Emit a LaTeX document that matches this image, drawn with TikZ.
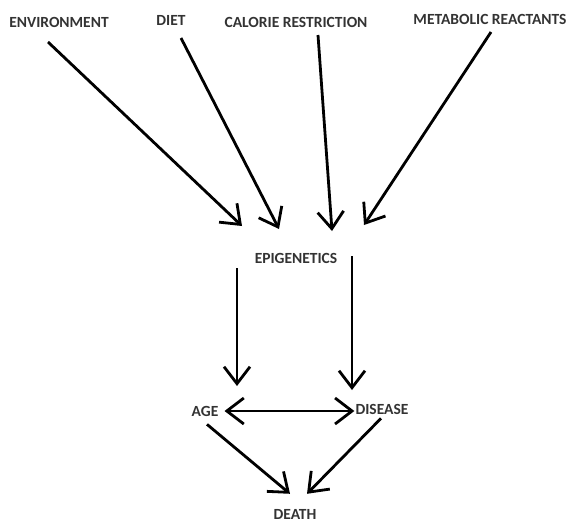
\documentclass[tikz,border=0pt]{standalone}
\usepackage{fontspec}
\setmainfont{Carlito}
\usetikzlibrary{arrows.meta}

\tikzset{
  lbl/.style={font=\bfseries\fontsize{15.5}{18}\selectfont, text=black!80, inner sep=0pt},
  arr/.style={line width=2.8pt, -{Straight Barb[length=17pt,width=26pt,line width=2.8pt]}},
  dblarr/.style={line width=2.8pt, {Straight Barb[length=17pt,width=26pt,line width=2.8pt]}-{Straight Barb[length=17pt,width=26pt,line width=2.8pt]}}
}

\begin{document}
\begin{tikzpicture}[x=1pt,y=-1pt]
      \useasboundingbox (0,0) rectangle (567,523);

      \node[lbl] (env)  at (59,22)  {ENVIRONMENT};
      \node[lbl] (diet) at (171,20) {DIET};
      \node[lbl] (cal)  at (296,22) {CALORIE RESTRICTION};
      \node[lbl] (met)  at (490,19) {METABOLIC REACTANTS};
      \node[lbl] (epi)  at (296,258) {EPIGENETICS};
      \node[lbl] (age)  at (205,411) {AGE};
      \node[lbl] (dis)  at (382,409) {DISEASE};
      \node[lbl] (dth)  at (295,514) {DEATH};

      % arrow ends above and below the labels
      \coordinate (envtip)  at (242,226);
      \coordinate (diettip) at (279,229);
      \coordinate (caltip)  at (332,231);
      \coordinate (mettip)  at (364,225);
      \coordinate (epil)    at (237,268);
      \coordinate (epir)    at (352,256);
      \coordinate (agetop)  at (237,386);
      \coordinate (distop)  at (352,390);

      \draw[arr] (48,42) -- (envtip);
      \draw[arr] (181,38) -- (diettip);
      \draw[arr] (318,35) -- (caltip);
      \draw[arr] (491,32) -- (mettip);
      \draw[arr] (epil) -- (agetop);
      \draw[arr] (epir) -- (distop);
      \draw[dblarr] ([xshift=6]age.east) -- ([shift={(-1,2)}]dis.west);
      \draw[arr] ([shift={(2,8)}]age.south) -- ([shift={(-5,-15)}]dth.north);
      \draw[arr] ([shift={(-1,4)}]dis.south) -- ([shift={(12,-15)}]dth.north);
    \end{tikzpicture}
\end{document}
